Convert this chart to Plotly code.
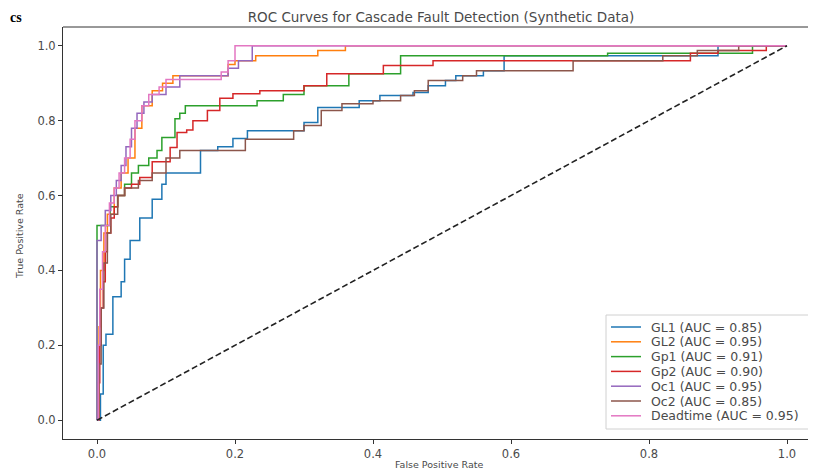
import plotly.graph_objects as go

# ---------------- data ----------------
names = ["GL1", "GL2", "Gp1", "Gp2", "Oc1", "Oc2", "Deadtime"]
aucs = [0.85, 0.95, 0.91, 0.90, 0.95, 0.85, 0.95]
colors = ["#1f77b4", "#ff7f0e", "#2ca02c", "#d62728", "#9467bd", "#8c564b", "#e377c2"]

GL1_fpr = [0, 0.005, 0.009, 0.013, 0.023, 0.035, 0.040, 0.048, 0.062, 0.080, 0.094, 0.100, 0.150, 0.175,
           0.197, 0.218, 0.250, 0.300, 0.320, 0.380, 0.410, 0.458, 0.480, 0.505, 0.520, 0.560, 0.590, 0.880, 0.900, 1.0]
GL1_tpr = [0, 0.07, 0.20, 0.23, 0.33, 0.37, 0.43, 0.48, 0.54, 0.59, 0.63, 0.66, 0.72, 0.73,
           0.752, 0.773, 0.773, 0.795, 0.835, 0.853, 0.867, 0.875, 0.893, 0.907, 0.92, 0.933, 0.973, 0.973, 1.0, 1.0]

GL2_fpr = [0, 0.003, 0.005, 0.010, 0.015, 0.025, 0.035, 0.045, 0.055, 0.065, 0.080, 0.095, 0.110, 0.190,
           0.200, 0.230, 0.320, 0.360, 1.0]
GL2_tpr = [0, 0.25, 0.40, 0.50, 0.55, 0.62, 0.66, 0.70, 0.78, 0.84, 0.88, 0.90, 0.92, 0.95,
           0.96, 0.973, 0.987, 1.0, 1.0]

Gp1_fpr = [0, 0, 0.019, 0.030, 0.040, 0.050, 0.060, 0.075, 0.087, 0.094, 0.109, 0.113, 0.120, 0.128,
           0.217, 0.232, 0.270, 0.300, 0.365, 0.440, 0.740, 0.950, 1.0]
Gp1_tpr = [0, 0.52, 0.57, 0.60, 0.63, 0.66, 0.68, 0.70, 0.72, 0.755, 0.755, 0.805, 0.82, 0.84,
           0.84, 0.853, 0.87, 0.893, 0.925, 0.973, 0.98, 1.0, 1.0]

Gp2_fpr = [0, 0.002, 0.004, 0.006, 0.009, 0.012, 0.015, 0.020, 0.025, 0.030, 0.040, 0.050, 0.062, 0.080,
           0.106, 0.116, 0.130, 0.139, 0.160, 0.178, 0.197, 0.236, 0.300, 0.333, 0.415, 0.487, 0.860, 0.900, 0.970, 1.0]
Gp2_tpr = [0, 0.10, 0.20, 0.30, 0.37, 0.45, 0.50, 0.54, 0.57, 0.60, 0.62, 0.63, 0.648, 0.69,
           0.728, 0.768, 0.775, 0.80, 0.827, 0.86, 0.872, 0.88, 0.893, 0.925, 0.947, 0.96, 0.98, 0.987, 1.0, 1.0]

Oc1_fpr = [0, 0, 0.006, 0.012, 0.020, 0.028, 0.035, 0.042, 0.050, 0.058, 0.068, 0.080, 0.100, 0.120,
           0.190, 0.205, 0.225, 1.0]
Oc1_tpr = [0, 0.48, 0.52, 0.56, 0.60, 0.64, 0.68, 0.73, 0.78, 0.82, 0.85, 0.87, 0.89, 0.92,
           0.94, 0.96, 1.0, 1.0]

Oc2_fpr = [0, 0.003, 0.006, 0.010, 0.015, 0.020, 0.030, 0.040, 0.060, 0.080, 0.100, 0.120, 0.215, 0.285,
           0.300, 0.325, 0.355, 0.400, 0.440, 0.460, 0.480, 0.530, 0.550, 0.690, 0.820, 0.870, 0.930, 1.0]
Oc2_tpr = [0, 0.15, 0.30, 0.42, 0.50, 0.55, 0.60, 0.62, 0.64, 0.66, 0.70, 0.72, 0.75, 0.773,
           0.787, 0.827, 0.845, 0.853, 0.867, 0.88, 0.907, 0.92, 0.933, 0.96, 0.973, 0.987, 1.0, 1.0]

Dead_fpr = [0, 0.002, 0.004, 0.008, 0.012, 0.018, 0.025, 0.032, 0.040, 0.048, 0.055, 0.065, 0.075, 0.090,
            0.100, 0.180, 0.190, 0.200, 1.0]
Dead_tpr = [0, 0.20, 0.35, 0.45, 0.52, 0.58, 0.62, 0.66, 0.70, 0.75, 0.80, 0.84, 0.87, 0.89,
            0.91, 0.93, 0.96, 1.0, 1.0]

chance_x = [0, 1]
chance_y = [0, 1]

x_ticks = [0.0, 0.2, 0.4, 0.6, 0.8, 1.0]
y_ticks = [0.0, 0.2, 0.4, 0.6, 0.8, 1.0]

curves = [(GL1_fpr, GL1_tpr), (GL2_fpr, GL2_tpr), (Gp1_fpr, Gp1_tpr), (Gp2_fpr, Gp2_tpr),
          (Oc1_fpr, Oc1_tpr), (Oc2_fpr, Oc2_tpr), (Dead_fpr, Dead_tpr)]

# ---------------- figure ----------------
# the page body keeps its default 8px margin, so the figure is drawn 8px in from the top-left
OFF = 8
W, H = 816 - OFF, 470 - OFF
L, R, T, B = 63 - OFF, 0, 27 - OFF, 31
plot_w = W - L - R
plot_h = H - T - B


def px_x(x):  # page pixel -> paper
    return (x - OFF - L) / plot_w


def px_y(y):
    return (H - B - (y - OFF)) / plot_h


FONT = "DejaVu Sans"
TXT = "#4a4a4a"

fig = go.Figure()
for (fx, ty), name, auc, col in zip(curves, names, aucs, colors):
    fig.add_trace(go.Scatter(x=fx, y=ty, mode="lines", line=dict(color=col, width=1.5, shape="hv"),
                             name=f"{name} (AUC = {auc:.2f})", showlegend=False))

fig.add_trace(go.Scatter(x=chance_x, y=chance_y, mode="lines",
                         line=dict(color="#222222", width=1.6, dash="6px,3px"), showlegend=False))

fig.update_layout(
    width=W, height=H,
    margin=dict(l=L, r=R, t=T, b=B),
    paper_bgcolor="white", plot_bgcolor="white",
    font=dict(family=FONT, size=11, color=TXT),
    title=dict(text="ROC Curves for Cascade Fault Detection (Synthetic Data)",
               x=px_x(441), xref="paper", xanchor="center",
               y=1 - (17.5 - OFF) / H, yref="container", yanchor="middle",
               font=dict(family=FONT, size=13.5, color=TXT)),
    showlegend=False,
)

fig.update_xaxes(range=[-34 / 690, (816 - 97) / 690], tickvals=x_ticks, ticktext=[f"{v:.1f}" for v in x_ticks],
                 showgrid=False, zeroline=False, showline=True, linecolor="#333333", linewidth=1,
                 ticks="outside", ticklen=4, tickcolor="#333333", tickfont=dict(size=11.5, color=TXT))
fig.update_yaxes(range=[-0.05, 1.05], tickvals=y_ticks, ticktext=[f"{v:.1f}" for v in y_ticks],
                 showgrid=False, zeroline=False, showline=True, linecolor="#333333", linewidth=1,
                 ticks="outside", ticklen=4, tickcolor="#333333", tickfont=dict(size=11.5, color=TXT))

# top spine
fig.add_shape(type="line", xref="paper", yref="paper", x0=0, x1=1, y0=1, y1=1,
              line=dict(color="#333333", width=1))

# axis titles
fig.add_annotation(text="False Positive Rate", xref="paper", yref="paper", x=px_x(439), y=px_y(464),
                   showarrow=False, xanchor="center", yanchor="middle", font=dict(size=9.5, color=TXT))
fig.add_annotation(text="True Positive Rate", xref="paper", yref="paper", x=px_x(19), y=px_y(236),
                   showarrow=False, textangle=-90, xanchor="center", yanchor="middle",
                   font=dict(size=9.5, color=TXT))

# stray heading fragment at the top-left corner
fig.add_annotation(text="<b>cs</b>", xref="paper", yref="paper", x=px_x(OFF), y=px_y(OFF),
                   showarrow=False, xanchor="left", yanchor="top",
                   font=dict(family="Liberation Serif", size=14, color="black"))

# legend box (drawn manually to match matplotlib spacing)
fig.add_shape(type="rect", xref="paper", yref="paper", x0=px_x(606), x1=px_x(822), y0=px_y(429), y1=px_y(315),
              line=dict(color="#d0d0d0", width=1), fillcolor="rgba(255,255,255,0.85)", layer="above")
for i, (name, auc, col) in enumerate(zip(names, aucs, colors)):
    yy = 327 + 14.8 * i
    fig.add_shape(type="line", xref="paper", yref="paper", x0=px_x(611), x1=px_x(641), y0=px_y(yy), y1=px_y(yy),
                  line=dict(color=col, width=1.5), layer="above")
    fig.add_annotation(text=f"{name} (AUC = {auc:.2f})", xref="paper", yref="paper", x=px_x(649), y=px_y(yy),
                       showarrow=False, xanchor="left", yanchor="middle", font=dict(size=12.5, color=TXT))

fig.write_html("out.html")
